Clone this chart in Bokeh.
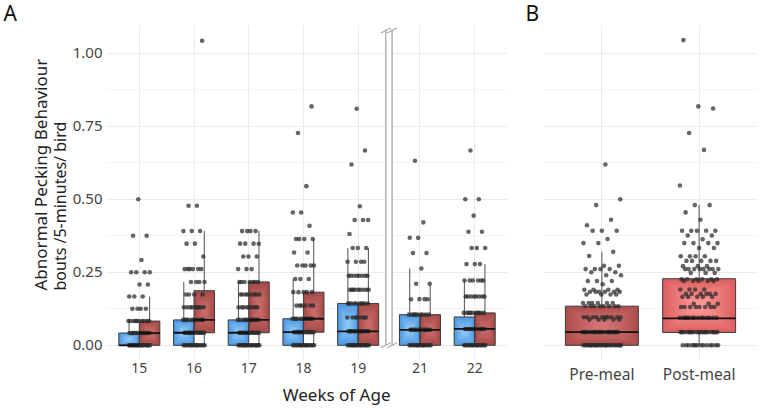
import numpy as np
from bokeh.plotting import figure
from bokeh.layouts import row
from bokeh.models import Title, FixedTicker, NumeralTickFormatter, ColumnDataSource, Grid
from bokeh.embed import file_html
from bokeh.resources import INLINE

FONT = "Noto Sans"

# ---------------- data: panel A ----------------
weeks = [15, 16, 17, 18, 19, 21, 22]

# box statistics (pre-meal = blue, post-meal = red)
pre_q1 = [0.0, 0.0, 0.0, 0.0, 0.0, 0.0, 0.0]
pre_med = [0.0, 0.043, 0.043, 0.045, 0.048, 0.053, 0.056]
pre_q3 = [0.042, 0.087, 0.087, 0.091, 0.143, 0.105, 0.097]
pre_lo = [0.0, 0.0, 0.0, 0.0, 0.0, 0.0, 0.0]
pre_hi = [0.083, 0.217, 0.217, 0.227, 0.333, 0.263, 0.222]

post_q1 = [0.0, 0.043, 0.043, 0.045, 0.0, 0.0, 0.0]
post_med = [0.042, 0.087, 0.087, 0.091, 0.048, 0.053, 0.056]
post_q3 = [0.083, 0.187, 0.217, 0.182, 0.143, 0.105, 0.111]
post_lo = [0.0, 0.0, 0.0, 0.0, 0.0, 0.0, 0.0]
post_hi = [0.167, 0.391, 0.391, 0.364, 0.333, 0.211, 0.278]

# individual observations per week (value levels and how many birds at each)
w15_vals = [0, 0.042, 0.083, 0.125, 0.167, 0.208, 0.25, 0.292, 0.375, 0.5]
w15_cnts = [20, 14, 10, 4, 3, 2, 4, 1, 2, 1]
w16_vals = [0, 0.043, 0.087, 0.130, 0.174, 0.217, 0.261, 0.304, 0.348, 0.391, 0.478, 1.043]
w16_cnts = [16, 14, 11, 9, 4, 4, 6, 1, 2, 3, 2, 1]
w17_vals = [0, 0.043, 0.087, 0.130, 0.174, 0.217, 0.261, 0.304, 0.348, 0.391]
w17_cnts = [18, 15, 12, 8, 8, 7, 3, 3, 4, 4]
w18_vals = [0, 0.045, 0.091, 0.136, 0.182, 0.227, 0.273, 0.318, 0.364, 0.409, 0.455, 0.545, 0.727, 0.818]
w18_cnts = [16, 14, 12, 6, 5, 3, 5, 2, 4, 1, 2, 1, 1, 1]
w19_vals = [0, 0.048, 0.095, 0.143, 0.190, 0.238, 0.286, 0.333, 0.381, 0.429, 0.476, 0.619, 0.667, 0.810]
w19_cnts = [18, 15, 7, 10, 9, 8, 4, 3, 1, 3, 1, 1, 1, 1]
w21_vals = [0, 0.053, 0.105, 0.158, 0.211, 0.263, 0.316, 0.368, 0.421, 0.632]
w21_cnts = [16, 13, 9, 4, 2, 1, 2, 2, 1, 1]
w22_vals = [0, 0.056, 0.111, 0.167, 0.222, 0.278, 0.333, 0.389, 0.444, 0.5, 0.667]
w22_cnts = [16, 12, 10, 8, 6, 3, 3, 2, 1, 2, 1]

week_points = [(w15_vals, w15_cnts), (w16_vals, w16_cnts), (w17_vals, w17_cnts),
               (w18_vals, w18_cnts), (w19_vals, w19_cnts), (w21_vals, w21_cnts),
               (w22_vals, w22_cnts)]

# ---------------- data: panel B ----------------
meal_labels = ["Pre-meal", "Post-meal"]
b_q1 = [0.0, 0.044]
b_med = [0.045, 0.092]
b_q3 = [0.134, 0.228]
b_lo = [0.0, 0.0]
b_hi = [0.32, 0.48]

bpre_vals = [0, 0.045, 0.088, 0.096, 0.134, 0.145, 0.174, 0.183, 0.19, 0.209, 0.22, 0.24,
             0.25, 0.261, 0.272, 0.306, 0.32, 0.35, 0.364, 0.392, 0.411, 0.43, 0.48, 0.50, 0.619]
bpre_cnts = [25, 18, 5, 10, 8, 6, 4, 6, 4, 1, 3, 2,
             2, 4, 2, 1, 1, 2, 1, 3, 1, 1, 1, 1, 1]
bpost_vals = [0, 0.045, 0.094, 0.131, 0.142, 0.166, 0.176, 0.191, 0.22, 0.226, 0.248, 0.261,
              0.271, 0.289, 0.305, 0.333, 0.35, 0.363, 0.376, 0.392, 0.43, 0.455, 0.48, 0.547,
              0.669, 0.727, 0.811, 0.818, 1.045]
bpost_cnts = [14, 18, 14, 8, 3, 5, 6, 4, 5, 6, 3, 8,
              3, 5, 4, 2, 4, 1, 2, 5, 1, 1, 2, 1,
              1, 1, 1, 1, 1]

# ---------------- styling helpers ----------------
GRID = "#ebebeb"
GRID_MINOR = "#f3f3f3"
TEXT = "#444444"
BLUE_EDGE, BLUE_CENTER = "#4c97e2", "#92cbf7"
RED_EDGE, RED_CENTER = "#a44a48", "#cd6e6c"
BPRE_EDGE, BPRE_CENTER = "#ad4e4d", "#d77675"
BPOST_EDGE, BPOST_CENTER = "#dd5f5f", "#fd9a98"
YR = (-0.052, 1.095)


def hex2rgb(h):
    h = h.lstrip("#")
    return [int(h[i:i + 2], 16) for i in (0, 2, 4)]


def lerp(c1, c2, t):
    a, b = hex2rgb(c1), hex2rgb(c2)
    return "#%02x%02x%02x" % tuple(int(round(a[i] + (b[i] - a[i]) * t)) for i in range(3))


def gradient_boxes(lefts, rights, bottoms, tops, edges, centers, n=9):
    d = dict(l=[], r=[], b=[], t=[], c=[])
    for k in range(n):
        f = k / n
        for L, R, B, T, e, c in zip(lefts, rights, bottoms, tops, edges, centers):
            w, h = R - L, T - B
            d["l"].append(L + f * w / 2 * 0.92)
            d["r"].append(R - f * w / 2 * 0.92)
            d["b"].append(B + f * h / 2 * 0.92)
            d["t"].append(T - f * h / 2 * 0.92)
            d["c"].append(lerp(e, c, f ** 0.9))
    return ColumnDataSource(d)


def jitter_points(centers, groups, width):
    xs, ys = [], []
    for cx, (vals, cnts) in zip(centers, groups):
        k = 0
        for v, n in zip(vals, cnts):
            for _ in range(n):
                off = ((k * 0.6180339887 + 0.37) % 1.0 - 0.5) * 2 * width
                xs.append(cx + off)
                ys.append(v)
                k += 1
    return xs, ys


def style(p, label_size):
    p.outline_line_color = None
    p.background_fill_color = "white"
    p.border_fill_color = "white"
    for ax in list(p.xaxis) + list(p.yaxis):
        ax.axis_line_color = None
        ax.major_tick_line_color = None
        ax.minor_tick_line_color = None
        ax.major_tick_out = 0
        ax.major_tick_in = 0
        ax.minor_tick_out = 0
        ax.minor_tick_in = 0
        ax.major_label_text_font = FONT
        ax.major_label_text_color = TEXT
    p.xaxis.major_label_text_font_size = label_size
    p.yaxis.major_label_text_font_size = "15px"
    p.xaxis.major_label_standoff = 2
    p.yaxis.major_label_standoff = 4
    if len(p.ygrid) == 0:
        p.add_layout(Grid(dimension=1), "center")
    p.ygrid.ticker = FixedTicker(ticks=[0, 0.25, 0.5, 0.75, 1.0],
                                 minor_ticks=[0.125, 0.375, 0.625, 0.875])
    p.ygrid.grid_line_color = GRID
    p.ygrid.minor_grid_line_color = GRID_MINOR
    p.xgrid.grid_line_color = GRID


def panel_title(p, text, offset):
    p.title.text = text
    p.title.align = "left"
    p.title.offset = offset
    p.title.standoff = -5
    p.title.vertical_align = "middle"
    p.title.text_font = FONT
    p.title.text_font_size = "21px"
    p.title.text_font_style = "normal"
    p.title.text_color = "#111111"


# ---------------- panel A ----------------
GAP = 0.13
pos = [i + (GAP if w > 19 else 0.0) for i, w in enumerate(weeks)]
BW = 0.375
XR_A = (-0.6, pos[-1] + 0.6)

pA = figure(width=520, height=414, x_range=XR_A, y_range=YR,
            output_backend="svg", toolbar_location=None,
            min_border_left=106, min_border_right=13, min_border_top=25, min_border_bottom=54)
style(pA, "14px")
panel_title(pA, "A", -103)
pA.xaxis.ticker = FixedTicker(ticks=pos)
pA.xaxis.major_label_overrides = {p_: str(w) for p_, w in zip(pos, weeks)}
pA.xgrid.ticker = FixedTicker(ticks=pos)
pA.yaxis.ticker = FixedTicker(ticks=[0, 0.25, 0.5, 0.75, 1.0])
pA.yaxis.formatter = NumeralTickFormatter(format="0.00")

pre_x = [p_ - BW / 2 for p_ in pos]
post_x = [p_ + BW / 2 for p_ in pos]
all_x = pre_x + post_x
all_q1 = pre_q1 + post_q1
all_q3 = pre_q3 + post_q3
all_med = pre_med + post_med
all_lo = pre_lo + post_lo
all_hi = pre_hi + post_hi

# break marker background (white gap)
brk_l = (pos[4] + pos[5]) / 2 - 0.06
brk_r = (pos[4] + pos[5]) / 2 + 0.055
pA.quad(left=[brk_l], right=[brk_r], bottom=[YR[0]], top=[YR[1]], fill_color="white", line_color=None)

# whiskers
pA.segment(x0=all_x, y0=all_q3, x1=all_x, y1=all_hi, line_color="#5f5f5f", line_width=1.1)
pA.segment(x0=all_x, y0=all_q1, x1=all_x, y1=all_lo, line_color="#5f5f5f", line_width=1.1)

# boxes with radial-like gradient
lefts = [x - BW / 2 for x in all_x]
rights = [x + BW / 2 for x in all_x]
edges = [BLUE_EDGE] * len(pos) + [RED_EDGE] * len(pos)
cents = [BLUE_CENTER] * len(pos) + [RED_CENTER] * len(pos)
srcA = gradient_boxes(lefts, rights, all_q1, all_q3, edges, cents)
pA.quad(left="l", right="r", bottom="b", top="t", fill_color="c", line_color=None, source=srcA)
pA.quad(left=lefts, right=rights, bottom=all_q1, top=all_q3, fill_color=None,
        line_color="#3c3c3c", line_width=1.0)

# points
xa, ya = jitter_points(pos, week_points, 0.2)
pA.scatter(xa, ya, size=4.6, fill_color="#2a2a2a", fill_alpha=0.72, line_color=None)

# medians
pA.segment(x0=lefts, y0=all_med, x1=rights, y1=all_med, line_color="#111111", line_width=1.8)

# axis break lines
px_x = 1.0 / 54.75
px_y = 1.0 / 292.0
for bx in (brk_l, brk_r):
    pA.segment(x0=[bx], y0=[0.0], x1=[bx], y1=[YR[1] - 4 * px_y], line_color="#a8a8a8", line_width=1.3)
    for yb in (0.0, YR[1] - 5 * px_y):
        pA.segment(x0=[bx - 5 * px_x], y0=[yb - 2.5 * px_y], x1=[bx + 5 * px_x], y1=[yb + 2.5 * px_y],
                   line_color="#a8a8a8", line_width=1.1)

# axis titles as side-panel titles
t_small = Title(text="bouts /5-minutes/ bird", align="left", offset=70, standoff=-5.5,
                vertical_align="middle", text_font=FONT, text_font_size="16px",
                text_font_style="normal", text_color="#222222")
t_big = Title(text="Abnormal Pecking Behaviour", align="left", offset=70, standoff=-5,
              vertical_align="middle", text_font=FONT, text_font_size="17px",
              text_font_style="normal", text_color="#222222")
pA.add_layout(t_small, "left")
pA.add_layout(t_big, "left")
t_x = Title(text="Weeks of Age", align="right", offset=117, standoff=12,
            vertical_align="middle", text_font=FONT, text_font_size="17px",
            text_font_style="normal", text_color="#222222")
pA.add_layout(t_x, "below")

# ---------------- panel B ----------------
bpos = [0.0, 1.0]
BWB = 0.75
pB = figure(width=244, height=414, x_range=(-0.6, 1.6), y_range=YR,
            output_backend="svg", toolbar_location=None, y_axis_location=None,
            min_border_left=23, min_border_right=7, min_border_top=25, min_border_bottom=54)
style(pB, "15.5px")
panel_title(pB, "B", -18)
pB.xaxis.ticker = FixedTicker(ticks=bpos)
pB.xaxis.major_label_overrides = {p_: t for p_, t in zip(bpos, meal_labels)}
pB.xaxis.major_label_standoff = 2
pB.xgrid.ticker = FixedTicker(ticks=bpos)

pB.segment(x0=bpos, y0=b_q3, x1=bpos, y1=b_hi, line_color="#5f5f5f", line_width=1.1)
pB.segment(x0=bpos, y0=b_q1, x1=bpos, y1=b_lo, line_color="#5f5f5f", line_width=1.1)
bl = [x - BWB / 2 for x in bpos]
br = [x + BWB / 2 for x in bpos]
srcB = gradient_boxes(bl, br, b_q1, b_q3, [BPRE_EDGE, BPOST_EDGE], [BPRE_CENTER, BPOST_CENTER], n=12)
pB.quad(left="l", right="r", bottom="b", top="t", fill_color="c", line_color=None, source=srcB)
pB.quad(left=bl, right=br, bottom=b_q1, top=b_q3, fill_color=None, line_color="#3c3c3c", line_width=1.0)

xb, yb_ = jitter_points(bpos, [(bpre_vals, bpre_cnts), (bpost_vals, bpost_cnts)], 0.2)
pB.scatter(xb, yb_, size=4.6, fill_color="#2a2a2a", fill_alpha=0.72, line_color=None)
pB.segment(x0=bl, y0=b_med, x1=br, y1=b_med, line_color="#111111", line_width=1.8)

layout = row(pA, pB)
open("out.html", "w").write(file_html(layout, INLINE))
